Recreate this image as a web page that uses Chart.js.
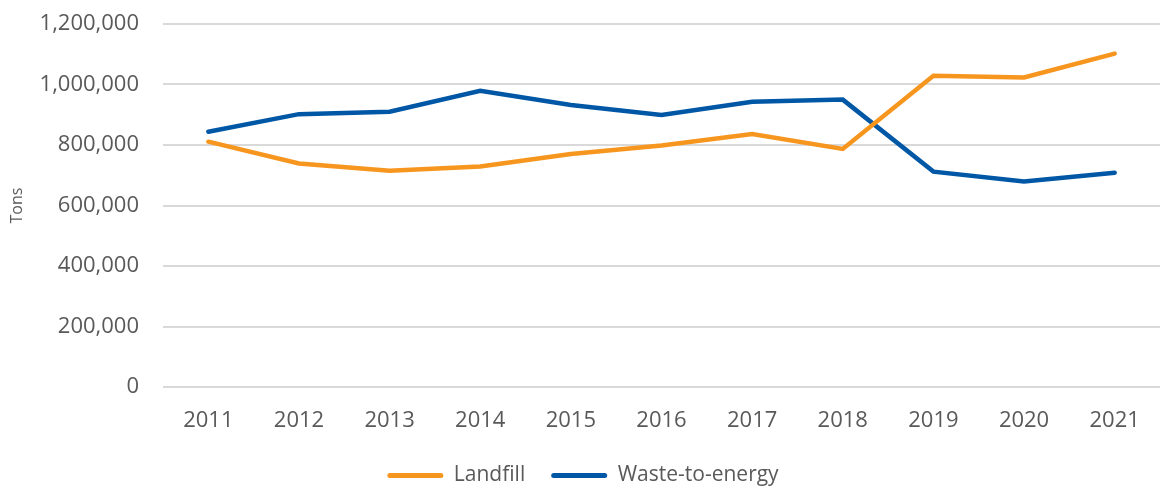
<!DOCTYPE html>
<html>
<head>
<meta charset="utf-8">
<script src="https://cdn.jsdelivr.net/npm/chart.js@4/dist/chart.umd.min.js"></script>
<style>
  html, body { margin: 0; padding: 0; background: #fff; }
  #wrap { width: 1164px; height: 487px; }
</style>
</head>
<body>
<div id="wrap"><canvas id="wasteChart"></canvas></div>
<script>
const years = ["2011", "2012", "2013", "2014", "2015", "2016", "2017", "2018", "2019", "2020", "2021"];
const landfill = [811000, 739000, 715000, 729000, 770000, 798000, 836000, 787000, 1029000, 1023000, 1102000];
const wasteToEnergy = [844000, 902000, 910000, 979000, 932000, 899000, 943000, 950000, 712000, 679000, 708000];

// legend box is a bit shorter than Chart.js makes it, so it sits lower
const legendHeight = {
    id: "legendHeight",
    beforeLayout: function (chart) {
        const lg = chart.legend;
        if (lg && !lg._patched) {
            const fit = lg.fit;
            lg.fit = function () {
                fit.call(this);
                this.height = 48;
            };
            lg._patched = true;
        }
    }
};

document.addEventListener("DOMContentLoaded", function () {
    const ctx = document.getElementById("wasteChart");
    const font = "'Open Sans', 'Liberation Sans', sans-serif";

    new Chart(ctx.getContext("2d"), {
        type: "line",
        data: {
            labels: years,
            datasets: [{
                label: "Landfill",
                data: landfill,
                borderColor: "#F7961F",
                backgroundColor: "#F7961F",
                borderWidth: 4.5,
                pointRadius: 0,
                borderCapStyle: "round",
                tension: 0
            }, {
                label: "Waste-to-energy",
                data: wasteToEnergy,
                borderColor: "#0057A5",
                backgroundColor: "#0057A5",
                borderWidth: 4.5,
                pointRadius: 0,
                borderCapStyle: "round",
                tension: 0
            }]
        },
        plugins: [legendHeight],
        options: {
            responsive: true,
            maintainAspectRatio: false,
            animation: false,
            layout: { padding: { top: 0, right: 4, left: 6, bottom: 0 } },
            plugins: {
                tooltip: { enabled: false },
                legend: {
                    position: "bottom",
                    labels: {
                        color: "#595959",
                        font: { family: font, size: 21 },
                        boxWidth: 56,
                        boxHeight: 5,
                        useBorderRadius: true,
                        borderRadius: 2.5,
                        padding: 26,
                        generateLabels: function (chart) {
                            const items = Chart.defaults.plugins.legend.labels.generateLabels(chart);
                            items.forEach(function (it) { it.lineWidth = 0; });
                            return items;
                        }
                    }
                }
            },
            scales: {
                x: {
                    offset: true,
                    grid: { display: false },
                    border: { display: false },
                    ticks: { color: "#595959", font: { family: font, size: 22 }, padding: 13 },
                    afterFit: function (scale) { scale.height = 52; }
                },
                y: {
                    min: 0,
                    max: 1200000,
                    border: { display: false },
                    grid: { color: "#D9D9D9", lineWidth: 2, drawTicks: false },
                    ticks: {
                        stepSize: 200000,
                        color: "#595959",
                        font: { family: font, size: 22 },
                        padding: 24,
                        callback: function (v) { return v.toLocaleString("en-US"); }
                    },
                    title: {
                        display: true,
                        text: "Tons",
                        color: "#595959",
                        font: { family: font, size: 16 },
                        padding: { top: 2, bottom: 4 }
                    },
                    afterFit: function (scale) {
                        scale.width = 157;
                        scale.paddingTop = 24;
                    }
                }
            }
        }
    });
});
</script>
</body>
</html>
